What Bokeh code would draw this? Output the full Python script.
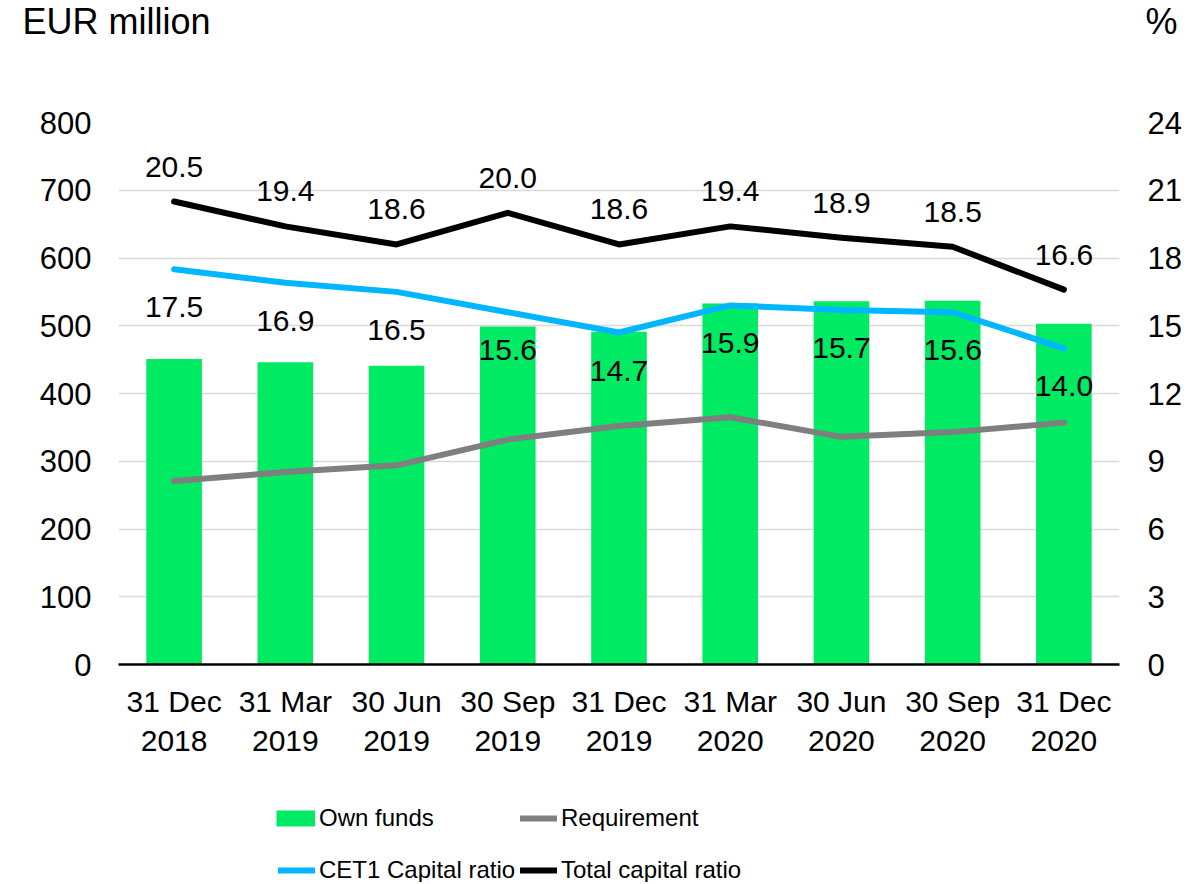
from bokeh.plotting import figure
from bokeh.layouts import column
from bokeh.models import (ColumnDataSource, Range1d, LinearAxis, FixedTicker, Legend,
                          LegendItem, LabelSet, FactorRange)
from bokeh.core.properties import value
from bokeh.embed import file_html
from bokeh.resources import INLINE

# ---- data ----
dates = ["31 Dec\n2018", "31 Mar\n2019", "30 Jun\n2019", "30 Sep\n2019", "31 Dec\n2019",
         "31 Mar\n2020", "30 Jun\n2020", "30 Sep\n2020", "31 Dec\n2020"]
own_funds = [451, 446, 441, 499, 491, 533, 536, 537, 503]
requirement = [271, 284, 294, 332, 352, 365, 336, 343, 357]
cet1_ratio = [17.5, 16.9, 16.5, 15.6, 14.7, 15.9, 15.7, 15.6, 14.0]
total_ratio = [20.5, 19.4, 18.6, 20.0, 18.6, 19.4, 18.9, 18.5, 16.6]
left_ticks = [0, 100, 200, 300, 400, 500, 600, 700, 800]
right_ticks = [0, 3, 6, 9, 12, 15, 18, 21, 24]
left_title = "EUR million"
right_title = "%"
series_names = ["Own funds", "Requirement", "CET1 Capital ratio", "Total capital ratio"]

GREEN = "#00EA64"
GRAY = "#7F7F7F"
BLUE = "#00B7FF"
BLACK = "#000000"
FONT = "Liberation Sans"
W = 1199
NAN = float("nan")

# ---------------- header with the two axis titles ----------------
HEAD_H = 100
TITLE_Y = 79
head = figure(width=W, height=HEAD_H, x_range=Range1d(0, W), y_range=Range1d(0, HEAD_H),
              min_border=0, title_location=None, output_backend="svg", toolbar_location=None)
head.frame_align = False
head.axis.visible = False
head.grid.grid_line_color = None
head.outline_line_color = None
head.text(x=[22], y=[TITLE_Y], text=[left_title], text_font=value(FONT),
          text_font_size="36px", text_color="black", text_align="left",
          text_baseline="alphabetic")
head.text(x=[1177], y=[TITLE_Y], text=[right_title], text_font=value(FONT),
          text_font_size="36px", text_color="black", text_align="right",
          text_baseline="alphabetic")

# ---------------- main chart ----------------
src = ColumnDataSource(dict(
    date=dates, own=own_funds, req=requirement, cet1=cet1_ratio, total=total_ratio,
    cet1_lbl=[f"{v:.1f}" for v in cet1_ratio],
    total_lbl=[f"{v:.1f}" for v in total_ratio],
))

p = figure(x_range=FactorRange(*dates), y_range=Range1d(left_ticks[0], left_ticks[-1]),
           frame_width=1001, frame_height=542,
           min_border_left=118, min_border_right=W - 118 - 1001, min_border_top=22,
           min_border_bottom=100,
           output_backend="svg", toolbar_location=None)
p.frame_align = False
p.extra_y_ranges = {"pct": Range1d(right_ticks[0], right_ticks[-1])}
p.outline_line_color = None

p.yaxis.ticker = FixedTicker(ticks=left_ticks)
p.yaxis.axis_line_color = None
p.yaxis.major_tick_line_color = None
p.yaxis.minor_tick_line_color = None
p.yaxis.major_tick_out = 0
p.yaxis.major_label_standoff = 27
p.yaxis.major_label_text_font = FONT
p.yaxis.major_label_text_font_size = "31px"
p.yaxis.major_label_text_color = "black"

ax2 = LinearAxis(y_range_name="pct", ticker=FixedTicker(ticks=right_ticks))
ax2.axis_line_color = None
ax2.major_tick_line_color = None
ax2.minor_tick_line_color = None
ax2.major_tick_out = 0
ax2.major_label_standoff = 28
ax2.major_label_text_font = FONT
ax2.major_label_text_font_size = "31px"
ax2.major_label_text_color = "black"
p.add_layout(ax2, "right")

p.xaxis.axis_line_color = "black"
p.xaxis.axis_line_width = 2.5
p.xaxis.major_tick_line_color = None
p.xaxis.minor_tick_line_color = None
p.xaxis.major_tick_out = 0
p.xaxis.major_label_standoff = 20
p.xaxis.major_label_text_font = FONT
p.xaxis.major_label_text_font_size = "30px"
p.xaxis.major_label_text_color = "black"
p.xaxis.major_label_orientation = "horizontal"

p.xgrid.grid_line_color = None
p.ygrid.grid_line_color = "#D9D9D9"
p.ygrid.grid_line_width = 1.3

p.vbar(x="date", top="own", width=0.5, source=src, fill_color=GREEN, line_color=None)
p.line(x="date", y="req", source=src, line_color=GRAY, line_width=6,
       line_cap="round", line_join="round")
p.line(x="date", y="cet1", source=src, y_range_name="pct", line_color=BLUE,
       line_width=6, line_cap="round", line_join="round")
p.line(x="date", y="total", source=src, y_range_name="pct", line_color=BLACK,
       line_width=6, line_cap="round", line_join="round")

for col, lbl, off in (("total", "total_lbl", 35), ("cet1", "cet1_lbl", -38)):
    p.add_layout(LabelSet(x="date", y=col, text=lbl, source=src, y_range_name="pct",
                          y_offset=off, text_align="center", text_baseline="middle",
                          text_font=value(FONT), text_font_size="30px", text_color="black"))

# ---------------- footer legend ----------------
FOOT_H = 118
foot = figure(width=W, height=FOOT_H, x_range=Range1d(0, 1), y_range=Range1d(0, 1),
              min_border=0, output_backend="svg", toolbar_location=None)
foot.frame_align = False
foot.axis.visible = False
foot.grid.grid_line_color = None
foot.outline_line_color = None

sw_own = foot.line(x=[NAN, NAN], y=[NAN, NAN], line_color=GREEN, line_width=16, line_cap="butt")
sw_req = foot.line(x=[NAN, NAN], y=[NAN, NAN], line_color=GRAY, line_width=6, line_cap="round")
sw_cet = foot.line(x=[NAN, NAN], y=[NAN, NAN], line_color=BLUE, line_width=6, line_cap="round")
sw_tot = foot.line(x=[NAN, NAN], y=[NAN, NAN], line_color=BLACK, line_width=6, line_cap="round")

def add_leg(name, rend, loc, gw, standoff):
    leg = Legend(items=[LegendItem(label=name, renderers=[rend])], location=loc,
                 orientation="horizontal", glyph_width=gw, glyph_height=30, label_height=30,
                 label_standoff=standoff, padding=0, margin=0, spacing=0,
                 border_line_color=None, background_fill_alpha=0,
                 label_text_font=FONT, label_text_font_size="24px", label_text_color="black")
    foot.add_layout(leg, "center")

add_leg(series_names[0], sw_own, (276, 49), 39, 4)
add_leg(series_names[1], sw_req, (520, 49), 37, 4)
add_leg(series_names[2], sw_cet, (278, -3), 37, 4)
add_leg(series_names[3], sw_tot, (520, -3), 37, 4)

layout = column(head, p, foot, spacing=0)
open("out.html", "w").write(file_html(layout, INLINE))
